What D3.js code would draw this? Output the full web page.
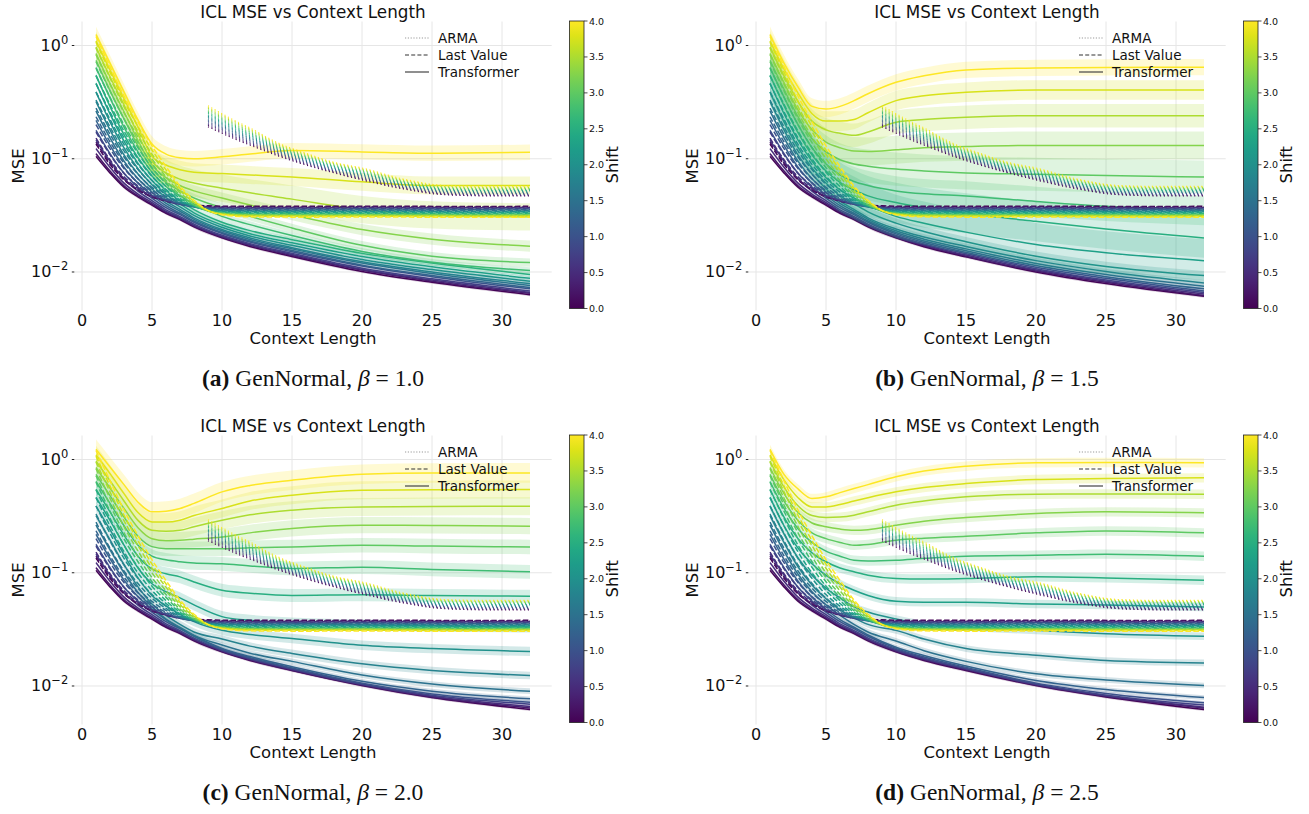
<!DOCTYPE html>
<html><head><meta charset="utf-8">
<script src="https://cdn.jsdelivr.net/npm/d3@7"></script>
<style>body{margin:0;background:#fff}svg{display:block}text{font-family:"DejaVu Sans",sans-serif;fill:#111}</style>
</head><body><svg id="c" width="1309" height="814"></svg>
<script>
const shifts = [0,0.25,0.5,0.75,1,1.25,1.5,1.75,2,2.25,2.5,2.75,3,3.25,3.5,3.75,4];
const xTransformer = [1,2,3,4,5,6,7,8,10,12,15,20,25,32];
const xLastValue = [1,2,3,4,5,6,7,8,9,10,12,16,20,24,28,32];
const xArma = [9,10,11,12,14,16,18,20,23,26,29,32];
const xTicks = [0,5,10,15,20,25,30];
const yTicks = [1,0.1,0.01];
const yTickExp = ["0","\u22121","\u22122"];
const cbarTicks = [0,0.5,1,1.5,2,2.5,3,3.5,4];
const panelLetters = ["a","b","c","d"];
const panelBetas = ["1.0","1.5","2.0","2.5"];
const legendNames = ["ARMA","Last Value","Transformer"];

const transformerA = [
[0.105,0.075,0.056,0.046,0.039,0.033,0.029,0.025,0.020,0.0168,0.0137,0.0101,0.0081,0.0063],
[0.111,0.078,0.0578,0.0471,0.0398,0.0336,0.0295,0.0255,0.0204,0.0172,0.0140,0.0104,0.0083,0.0065],
[0.123,0.0841,0.0609,0.0488,0.0409,0.0343,0.0301,0.0258,0.0207,0.0174,0.0143,0.0105,0.0085,0.0066],
[0.146,0.0952,0.0665,0.0518,0.0426,0.0354,0.0308,0.0265,0.0211,0.0178,0.0146,0.0108,0.0087,0.0068],
[0.178,0.111,0.0745,0.0561,0.045,0.037,0.0321,0.0275,0.0219,0.0184,0.0151,0.0113,0.0091,0.0071],
[0.218,0.131,0.0841,0.0609,0.0476,0.0385,0.033,0.0282,0.0223,0.0188,0.0155,0.0115,0.0093,0.0073],
[0.264,0.153,0.0953,0.0666,0.0509,0.0404,0.0344,0.0292,0.0231,0.0194,0.0160,0.0120,0.0097,0.0076],
[0.32,0.180,0.108,0.0732,0.0544,0.0424,0.0357,0.0301,0.0237,0.020,0.0164,0.0123,0.0100,0.0079],
[0.387,0.212,0.1245,0.0815,0.059,0.0453,0.0376,0.0316,0.0248,0.0208,0.0172,0.0129,0.0105,0.0083],
[0.463,0.249,0.143,0.0911,0.0643,0.0485,0.0399,0.0333,0.026,0.0218,0.0181,0.0137,0.0111,0.0088],
[0.546,0.29,0.163,0.102,0.0704,0.0524,0.0426,0.0355,0.0275,0.0232,0.0193,0.0146,0.0120,0.0095],
[0.64,0.345,0.19,0.115,0.076,0.057,0.047,0.040,0.031,0.0262,0.021,0.0152,0.0122,0.0103],
[0.74,0.40,0.225,0.13,0.082,0.062,0.052,0.045,0.037,0.031,0.0245,0.0172,0.0138,0.0121],
[0.85,0.46,0.26,0.145,0.088,0.068,0.058,0.052,0.045,0.039,0.032,0.0237,0.0195,0.0169],
[0.97,0.53,0.30,0.165,0.095,0.075,0.066,0.061,0.055,0.050,0.044,0.0356,0.032,0.0307],
[1.10,0.61,0.34,0.19,0.105,0.088,0.080,0.076,0.074,0.072,0.069,0.0625,0.058,0.058],
[1.25,0.70,0.39,0.22,0.135,0.11,0.102,0.100,0.104,0.11,0.118,0.115,0.112,0.114]];
const bandA = [1.03,1.03,1.03,1.03,1.03,1.03,1.04,1.04,1.04,1.05,1.05,1.07,1.09,1.12,1.32,1.2,1.17];

const transformerB = [
[0.105,0.075,0.056,0.046,0.039,0.033,0.029,0.025,0.020,0.0167,0.0136,0.0100,0.0079,0.0061],
[0.111,0.078,0.0578,0.0471,0.0398,0.0336,0.0295,0.0255,0.0203,0.0170,0.0138,0.0102,0.0081,0.0062],
[0.123,0.0841,0.0609,0.0488,0.0409,0.0343,0.0301,0.0258,0.0206,0.0173,0.0141,0.0104,0.0083,0.0064],
[0.146,0.0952,0.0665,0.0518,0.0426,0.0354,0.0308,0.0265,0.0210,0.0177,0.0145,0.0107,0.0085,0.0066],
[0.178,0.111,0.0745,0.0561,0.045,0.037,0.0321,0.0275,0.0217,0.0182,0.0149,0.0110,0.0088,0.0068],
[0.218,0.131,0.0841,0.0609,0.0476,0.0385,0.033,0.0282,0.0223,0.0188,0.0154,0.0114,0.0091,0.0071],
[0.264,0.153,0.0953,0.0666,0.0509,0.0404,0.0344,0.0292,0.0231,0.0195,0.0160,0.0119,0.0095,0.0075],
[0.32,0.180,0.108,0.0732,0.0544,0.0424,0.0357,0.0301,0.0240,0.0204,0.0168,0.0126,0.0101,0.0080],
[0.387,0.212,0.126,0.083,0.061,0.047,0.040,0.034,0.027,0.0228,0.0185,0.0138,0.0112,0.0093],
[0.463,0.25,0.146,0.095,0.068,0.053,0.045,0.039,0.031,0.027,0.0225,0.0175,0.0148,0.0126],
[0.546,0.295,0.17,0.108,0.078,0.062,0.053,0.047,0.041,0.037,0.033,0.028,0.024,0.020],
[0.64,0.35,0.20,0.125,0.09,0.072,0.063,0.058,0.052,0.049,0.047,0.042,0.038,0.035],
[0.74,0.41,0.235,0.15,0.115,0.098,0.09,0.086,0.081,0.078,0.075,0.073,0.071,0.069],
[0.85,0.47,0.27,0.18,0.14,0.125,0.117,0.116,0.12,0.125,0.128,0.131,0.131,0.131],
[0.97,0.54,0.32,0.215,0.18,0.168,0.161,0.172,0.21,0.222,0.232,0.24,0.24,0.24],
[1.10,0.62,0.38,0.25,0.215,0.215,0.222,0.255,0.326,0.36,0.386,0.405,0.405,0.405],
[1.25,0.70,0.43,0.29,0.275,0.29,0.326,0.375,0.473,0.54,0.608,0.634,0.64,0.643]];
const bandB = [1.03,1.03,1.03,1.03,1.04,1.04,1.05,1.06,1.1,1.55,1.5,1.35,1.4,1.33,1.27,1.22,1.18];

const transformerC = [
[0.105,0.075,0.056,0.046,0.039,0.033,0.029,0.025,0.020,0.0168,0.0137,0.0101,0.0079,0.0062],
[0.111,0.078,0.0578,0.0471,0.0398,0.0336,0.0295,0.0255,0.0203,0.0170,0.0138,0.0102,0.0080,0.0064],
[0.123,0.0841,0.0609,0.0488,0.0409,0.0343,0.0301,0.0258,0.0205,0.0172,0.0140,0.0103,0.0081,0.0066],
[0.146,0.0952,0.0665,0.0518,0.0426,0.0354,0.0308,0.0265,0.0208,0.0175,0.0142,0.0104,0.0083,0.0069],
[0.178,0.111,0.0745,0.0561,0.045,0.037,0.0321,0.0275,0.0212,0.0178,0.0144,0.0106,0.0085,0.0072],
[0.218,0.133,0.086,0.0615,0.0476,0.0385,0.0325,0.0278,0.0215,0.0182,0.0148,0.011,0.0090,0.0077],
[0.264,0.16,0.10,0.067,0.05,0.039,0.033,0.028,0.023,0.0195,0.0165,0.0125,0.0104,0.0090],
[0.32,0.195,0.118,0.075,0.053,0.042,0.035,0.030,0.026,0.0225,0.0194,0.0157,0.0137,0.0124],
[0.387,0.24,0.145,0.09,0.063,0.051,0.043,0.037,0.031,0.0285,0.0263,0.0229,0.0214,0.0202],
[0.463,0.29,0.175,0.11,0.08,0.068,0.060,0.052,0.041,0.038,0.036,0.0345,0.034,0.0332],
[0.546,0.345,0.215,0.14,0.108,0.098,0.092,0.083,0.070,0.066,0.063,0.064,0.063,0.062],
[0.64,0.41,0.26,0.175,0.14,0.13,0.125,0.122,0.12,0.115,0.109,0.112,0.107,0.102],
[0.74,0.48,0.31,0.21,0.17,0.163,0.163,0.163,0.163,0.166,0.169,0.175,0.172,0.169],
[0.85,0.56,0.37,0.25,0.2,0.192,0.194,0.198,0.207,0.225,0.246,0.263,0.262,0.258],
[0.97,0.65,0.43,0.29,0.237,0.232,0.237,0.255,0.291,0.325,0.357,0.381,0.385,0.387],
[1.10,0.75,0.50,0.34,0.281,0.28,0.291,0.32,0.369,0.43,0.484,0.536,0.54,0.543],
[1.23,0.86,0.60,0.42,0.345,0.35,0.37,0.41,0.518,0.59,0.657,0.742,0.76,0.762]];
const bandC = [1.03,1.03,1.03,1.03,1.04,1.05,1.06,1.08,1.1,1.12,1.14,1.15,1.16,1.18,1.2,1.2,1.22];

const transformerD = [
[0.105,0.075,0.056,0.046,0.039,0.033,0.029,0.025,0.020,0.0168,0.0137,0.0101,0.0080,0.0062],
[0.111,0.078,0.0578,0.0471,0.0398,0.0336,0.0295,0.0255,0.0203,0.0170,0.0139,0.0102,0.0081,0.0064],
[0.123,0.0841,0.0609,0.0488,0.0409,0.0343,0.0301,0.0258,0.0206,0.0173,0.0141,0.0103,0.0082,0.0065],
[0.146,0.0952,0.0665,0.0518,0.0426,0.0354,0.0308,0.0265,0.0210,0.0176,0.0143,0.0104,0.0083,0.0068],
[0.178,0.111,0.0745,0.0561,0.045,0.037,0.0321,0.0275,0.0215,0.018,0.0146,0.0106,0.0086,0.0071],
[0.218,0.131,0.0841,0.0609,0.0476,0.0385,0.033,0.0282,0.022,0.0186,0.0150,0.0112,0.0093,0.0079],
[0.264,0.155,0.097,0.068,0.052,0.042,0.035,0.030,0.025,0.0205,0.0165,0.0128,0.0113,0.0101],
[0.32,0.185,0.113,0.078,0.059,0.047,0.04,0.035,0.031,0.026,0.0214,0.0187,0.0168,0.016],
[0.387,0.22,0.135,0.095,0.073,0.06,0.05,0.045,0.039,0.035,0.033,0.031,0.029,0.0275],
[0.463,0.26,0.165,0.12,0.095,0.08,0.07,0.063,0.056,0.055,0.055,0.053,0.052,0.0499],
[0.546,0.31,0.20,0.15,0.125,0.11,0.102,0.095,0.089,0.088,0.089,0.092,0.09,0.0859],
[0.64,0.37,0.245,0.185,0.155,0.14,0.129,0.127,0.129,0.134,0.14,0.143,0.146,0.14],
[0.74,0.43,0.29,0.225,0.20,0.185,0.175,0.178,0.194,0.202,0.21,0.225,0.234,0.225],
[0.85,0.50,0.34,0.275,0.255,0.243,0.237,0.24,0.263,0.285,0.307,0.333,0.345,0.338],
[0.97,0.57,0.39,0.32,0.307,0.31,0.322,0.345,0.395,0.43,0.468,0.494,0.496,0.494],
[1.10,0.66,0.46,0.381,0.381,0.40,0.43,0.46,0.518,0.565,0.613,0.666,0.68,0.689],
[1.23,0.74,0.55,0.452,0.468,0.51,0.554,0.6,0.703,0.79,0.873,0.935,0.94,0.935]];
const bandD = [1.03,1.03,1.03,1.03,1.04,1.05,1.06,1.07,1.08,1.09,1.1,1.1,1.1,1.1,1.1,1.1,1.1];

const lastValue = [
[0.135,0.0894,0.0652,0.053,0.0462,0.0426,0.0402,0.039,0.0384,0.0381,0.038,0.038,0.0381,0.038,0.0379,0.038],
[0.14,0.0918,0.0662,0.0534,0.0462,0.0423,0.0399,0.0386,0.0379,0.0376,0.0375,0.0375,0.0376,0.0375,0.0374,0.0375],
[0.152,0.098,0.0692,0.0548,0.0468,0.0424,0.0396,0.0382,0.0374,0.0371,0.037,0.037,0.0371,0.037,0.0369,0.037],
[0.172,0.1083,0.0744,0.0575,0.048,0.0429,0.0396,0.038,0.037,0.0367,0.0365,0.0365,0.0366,0.0365,0.0364,0.0365],
[0.2,0.1229,0.0819,0.0614,0.0499,0.0437,0.0398,0.0378,0.0366,0.0362,0.036,0.036,0.0361,0.036,0.0359,0.036],
[0.235,0.1412,0.0914,0.0664,0.0525,0.0449,0.0401,0.0376,0.0363,0.0358,0.0355,0.0355,0.0356,0.0355,0.0354,0.0355],
[0.28,0.1649,0.1036,0.073,0.0558,0.0465,0.0406,0.0376,0.0359,0.0353,0.035,0.035,0.0351,0.035,0.0349,0.035],
[0.33,0.1911,0.1172,0.0803,0.0596,0.0484,0.0413,0.0377,0.0356,0.0349,0.0346,0.0345,0.0346,0.0345,0.0344,0.0345],
[0.39,0.2227,0.1337,0.0892,0.0643,0.0507,0.0422,0.0378,0.0354,0.0345,0.0341,0.034,0.0341,0.034,0.0339,0.034],
[0.46,0.2595,0.1529,0.0996,0.0698,0.0535,0.0433,0.0381,0.0351,0.0341,0.0336,0.0335,0.0336,0.0335,0.0334,0.0335],
[0.54,0.3017,0.175,0.1116,0.0761,0.0568,0.0447,0.0384,0.0349,0.0337,0.0331,0.033,0.0331,0.033,0.0329,0.033],
[0.63,0.3492,0.1998,0.1251,0.0833,0.0606,0.0462,0.0389,0.0348,0.0333,0.0326,0.0325,0.0326,0.0325,0.0324,0.0325],
[0.72,0.3966,0.2246,0.1386,0.0905,0.0643,0.0478,0.0394,0.0346,0.0329,0.0321,0.032,0.0321,0.032,0.0319,0.032],
[0.83,0.4549,0.2553,0.1555,0.0996,0.0693,0.0502,0.0403,0.0348,0.0328,0.0318,0.0317,0.0318,0.0317,0.0316,0.0317],
[0.95,0.5183,0.2886,0.1738,0.1095,0.0746,0.0525,0.0412,0.0349,0.0326,0.0316,0.0314,0.0315,0.0314,0.0313,0.0314],
[1.07,0.5817,0.3219,0.192,0.1193,0.0798,0.0549,0.0421,0.0349,0.0324,0.0312,0.031,0.0311,0.031,0.0309,0.031],
[1.2,0.6503,0.358,0.2118,0.1299,0.0855,0.0574,0.043,0.035,0.032,0.0307,0.0305,0.0306,0.0305,0.0304,0.0305]];

const arma = [
[0.192,0.168,0.148,0.132,0.106,0.088,0.075,0.065,0.054,0.048,0.047,0.047],
[0.1972,0.1722,0.1515,0.1349,0.1078,0.0893,0.076,0.066,0.0547,0.0486,0.0476,0.0476],
[0.2025,0.1766,0.1551,0.1379,0.1096,0.0907,0.077,0.067,0.0554,0.0491,0.0481,0.0481],
[0.2079,0.181,0.1587,0.1409,0.1114,0.0921,0.0781,0.068,0.0561,0.0497,0.0487,0.0487],
[0.2136,0.1855,0.1625,0.144,0.1132,0.0935,0.0791,0.0691,0.0568,0.0503,0.0493,0.0493],
[0.2194,0.1902,0.1663,0.1472,0.1151,0.0949,0.0802,0.0702,0.0575,0.0509,0.0499,0.0499],
[0.2253,0.195,0.1702,0.1504,0.117,0.0963,0.0813,0.0712,0.0582,0.0515,0.0505,0.0505],
[0.2314,0.1999,0.1743,0.1537,0.119,0.0978,0.0824,0.0723,0.0589,0.0521,0.0511,0.0511],
[0.2376,0.2049,0.1784,0.1571,0.1209,0.0993,0.0835,0.0735,0.0597,0.0528,0.0518,0.0518],
[0.244,0.2101,0.1826,0.1606,0.123,0.1008,0.0846,0.0746,0.0604,0.0534,0.0524,0.0524],
[0.2506,0.2153,0.1869,0.1641,0.125,0.1023,0.0858,0.0757,0.0612,0.054,0.053,0.053],
[0.2574,0.2208,0.1913,0.1677,0.1271,0.1039,0.0869,0.0769,0.062,0.0547,0.0537,0.0537],
[0.2643,0.2263,0.1958,0.1714,0.1292,0.1054,0.0881,0.0781,0.0628,0.0553,0.0543,0.0543],
[0.2714,0.232,0.2004,0.1752,0.1313,0.107,0.0893,0.0793,0.0635,0.056,0.055,0.055],
[0.2788,0.2378,0.2052,0.179,0.1335,0.1087,0.0905,0.0805,0.0643,0.0566,0.0556,0.0556],
[0.2863,0.2438,0.21,0.183,0.1357,0.1103,0.0917,0.0817,0.0652,0.0573,0.0563,0.0563],
[0.294,0.25,0.215,0.187,0.138,0.112,0.093,0.083,0.066,0.058,0.057,0.057]];

const svg = d3.select("#c");
const color = s => d3.interpolateViridis(s / 4);

const defs = svg.append("defs");
const grad = defs.append("linearGradient").attr("id","vir").attr("x1",0).attr("y1",1).attr("x2",0).attr("y2",0);
d3.range(0,1.0001,0.05).forEach(t => grad.append("stop").attr("offset",t).attr("stop-color",d3.interpolateViridis(t)));

const panels = [
  {dx:0,   dy:0,   T:transformerA, B:bandA},
  {dx:674, dy:0,   T:transformerB, B:bandB},
  {dx:0,   dy:414, T:transformerC, B:bandC},
  {dx:674, dy:414, T:transformerD, B:bandD}
];

panels.forEach((p, pi) => {
  const g = svg.append("g").attr("transform", `translate(${p.dx},${p.dy})`);
  const x = d3.scaleLinear().domain([-0.55, 33.55]).range([74.3, 551.7]);
  const y = d3.scaleLog().domain([Math.pow(10,0.212), Math.pow(10,-2.34)]).range([21.5, 310.5]);
  const [x0, x1] = x.range(), [y0, y1] = y.range();

  g.append("g").selectAll("line").data(xTicks).join("line")
    .attr("x1", d => x(d)).attr("x2", d => x(d)).attr("y1", y0).attr("y2", y1)
    .attr("stroke", "#e6e6e6").attr("stroke-width", 1);
  g.append("g").selectAll("line").data(yTicks).join("line")
    .attr("x1", x0).attr("x2", x1).attr("y1", d => y(d)).attr("y2", d => y(d))
    .attr("stroke", "#e6e6e6").attr("stroke-width", 1);

  const band = d3.area().curve(d3.curveMonotoneX);
  const line = d3.line().curve(d3.curveMonotoneX);

  shifts.forEach((s, i) => {
    const c = color(s);
    const f = p.B[i];
    const ptsT = xTransformer.map((xv, k) => [x(xv), y(p.T[i][k])]);
    band.x((d, k) => x(xTransformer[k])).y0(d => y(d / f)).y1(d => y(d * f));
    g.append("path").attr("d", band(p.T[i])).attr("fill", c).attr("fill-opacity", 0.2).attr("stroke", "none");
    g.append("path").attr("d", line(ptsT)).attr("fill", "none").attr("stroke", c).attr("stroke-width", 1.5);
  });
  shifts.forEach((s, i) => {
    const c = color(s);
    const ptsL = xLastValue.map((xv, k) => [x(xv), y(lastValue[i][k])]);
    g.append("path").attr("d", line(ptsL)).attr("fill", "none").attr("stroke", c)
      .attr("stroke-width", 1.5).attr("stroke-dasharray", "5.5,2.4");
    const ptsA = xArma.map((xv, k) => [x(xv), y(arma[i][k])]);
    g.append("path").attr("d", line(ptsA)).attr("fill", "none").attr("stroke", c)
      .attr("stroke-width", 1.1).attr("stroke-dasharray", "1.1,2.7");
  });

  g.append("g").selectAll("text").data(xTicks).join("text")
    .attr("x", d => x(d)).attr("y", 326).attr("text-anchor", "middle")
    .attr("font-size", 16).text(d => d);
  yTicks.forEach((d, k) => {
    g.append("line").attr("x1", x0 - 2.5).attr("x2", x0).attr("y1", y(d)).attr("y2", y(d))
      .attr("stroke", "#222").attr("stroke-width", 1);
    const t = g.append("text").attr("x", x0 - 6).attr("y", y(d) + 5).attr("text-anchor", "end").attr("font-size", 16);
    t.append("tspan").text("10");
    t.append("tspan").attr("font-size", 11.5).attr("dy", -7).text(yTickExp[k]);
  });
  g.append("text").attr("x", (x0 + x1) / 2).attr("y", 344).attr("text-anchor", "middle")
    .attr("font-size", 16.5).text("Context Length");
  g.append("text").attr("transform", `translate(24,${(y0 + y1) / 2}) rotate(-90)`)
    .attr("text-anchor", "middle").attr("font-size", 16.5).text("MSE");
  g.append("text").attr("x", (x0 + x1) / 2).attr("y", 18).attr("text-anchor", "middle")
    .attr("font-size", 16.8).text("ICL MSE vs Context Length");

  const lg = g.append("g");
  const legStyles = [{dash:"1.2,1.6", col:"#999"}, {dash:"4,2.2", col:"#333"}, {dash:null, col:"#444"}];
  legendNames.forEach((n, k) => {
    const ly = 38 + k * 17;
    const ln = lg.append("line").attr("x1", 405).attr("x2", 429).attr("y1", ly).attr("y2", ly)
      .attr("stroke", legStyles[k].col).attr("stroke-width", 1.2);
    if (legStyles[k].dash) ln.attr("stroke-dasharray", legStyles[k].dash);
    lg.append("text").attr("x", 438).attr("y", ly + 5).attr("font-size", 13.5).text(n);
  });

  const cb = d3.scaleLinear().domain([0, 4]).range([308.5, 21]);
  g.append("rect").attr("x", 569.5).attr("y", 21).attr("width", 14.5).attr("height", 287.5)
    .attr("fill", "url(#vir)").attr("stroke", "#222").attr("stroke-width", 0.8);
  g.append("g").selectAll("line").data(cbarTicks).join("line")
    .attr("x1", 584).attr("x2", 587.5).attr("y1", d => cb(d)).attr("y2", d => cb(d))
    .attr("stroke", "#222").attr("stroke-width", 0.8);
  g.append("g").selectAll("text").data(cbarTicks).join("text")
    .attr("x", 589).attr("y", d => cb(d) + 3.5).attr("font-size", 9.5).text(d => d.toFixed(1));
  g.append("text").attr("transform", `translate(618,${(21 + 308.5) / 2}) rotate(-90)`)
    .attr("text-anchor", "middle").attr("font-size", 16.5).text("Shift");

  const sc = g.append("text").attr("x", 313).attr("y", 386).attr("text-anchor", "middle")
    .style("font-family", "'Liberation Serif','Times New Roman',serif").attr("font-size", 23.5);
  sc.append("tspan").attr("font-weight", "bold").text(`(${panelLetters[pi]})`);
  sc.append("tspan").text(" GenNormal, ");
  sc.append("tspan").attr("font-style", "italic").text("\u03b2");
  sc.append("tspan").text(` = ${panelBetas[pi]}`);
});
</script></body></html>
